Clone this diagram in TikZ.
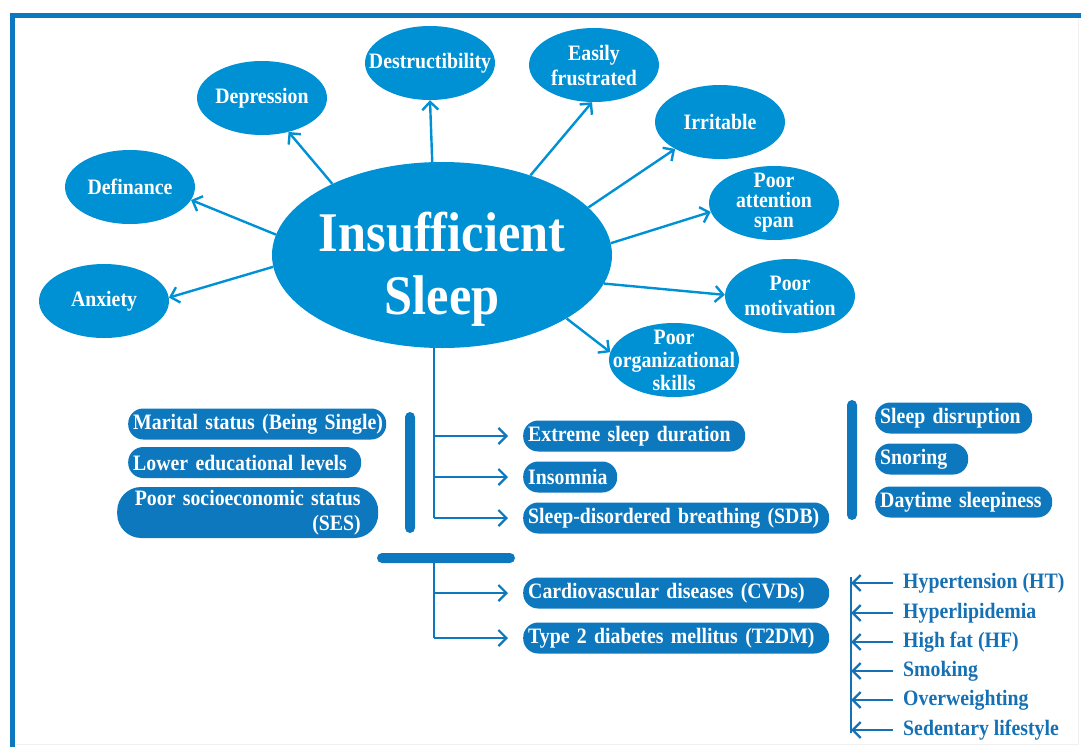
\documentclass[tikz,border=0pt]{standalone}
\usepackage{fontspec}
\setmainfont{Liberation Serif}[FakeStretch=0.9]
\usetikzlibrary{arrows.meta,positioning,shapes.geometric}
\definecolor{ovalblue}{RGB}{0,145,213}
\definecolor{boxblue}{RGB}{14,120,190}
\definecolor{listblue}{RGB}{22,112,180}

\begin{document}
\begin{tikzpicture}[x=1pt,y=-1pt,every node/.style={font=\fontsize{22}{25}\selectfont\bfseries},
    oval/.style={ellipse,fill=ovalblue,text=white,minimum width=130pt,minimum height=74pt,
                 inner xsep=-22pt,inner ysep=-14pt,align=center},
    factor/.style={fill=boxblue,text=white,rounded corners=15pt,minimum height=31pt,
                   inner xsep=5pt,inner ysep=0pt,anchor=west,align=left},
    risk/.style={text=listblue,anchor=west,inner xsep=0pt},
    bar/.style={fill=boxblue,rounded corners=5pt,inner sep=0pt},
    up/.style={draw=ovalblue,line width=2.4pt,-{Straight Barb[length=8pt,width=16pt]}},
    down/.style={draw=boxblue,line width=2.2pt,-{Straight Barb[length=8pt,width=16pt]},shorten >=15pt},
    back/.style={draw=listblue,line width=2.4pt,-{Straight Barb[length=8pt,width=16pt]},shorten <=10pt}]
  \useasboundingbox (0,0) rectangle (1081,747);
  % frame
  \draw[gray!12,line width=1pt] (1078,15) -- (1078,744) -- (12,744);
  \draw[boxblue,line width=5pt] (1081,15) -- (12,15) -- (12,747);

  % centre and its effects
  \node[ellipse,fill=ovalblue,minimum width=340pt,minimum height=186pt,inner sep=0pt] (main) at (442,255) {};
  \node[text=white,align=center,font=\fontsize{56}{63}\selectfont\bfseries] (title) at (442,269) {Insufficient\\Sleep};
  \node[oval] (dep) at (262,98)  {Depression};
  \node[oval] (des) at (430,63)  {Destructibility};
  \node[oval] (fru) at (594,65)  {Easily\\frustrated};
  \node[oval] (irr) at (720,122) {Irritable};
  \node[oval,font=\fontsize{22}{20}\selectfont\bfseries] (att) at (774,203) {Poor\\attention\\span};
  \node[oval] (mot) at (790,296) {Poor\\motivation};
  \node[oval,font=\fontsize{22}{23}\selectfont\bfseries] (org) at (674,360) {Poor\\organizational\\skills};
  \node[oval] (dfn) at (130,187) {Definance};
  \node[oval] (anx) at (104,301) {Anxiety};
  \draw[up] (main.147) -- (dep.-52);
  \draw[up] (main.96)  -- (des.-90);
  \draw[up] (main.42)  -- (fru.-93);
  \draw[up] (main.18)  -- (irr.-149);
  \draw[up] (main.4)   -- (att.188);
  \draw[up] (main.-10) -- (mot.179);
  \draw[up] (main.-27) -- (org.173);
  \draw[up] (main.173) -- (dfn.-12);
  \draw[up] (main.184) -- (anx.3);

  % sleep problems
  \node[factor,text width=212pt] (ext) at (523,436) {\mbox{Extreme sleep duration}};
  \node[factor,text width=84pt]  (ins) at (523,477) {\mbox{Insomnia}};
  \node[factor,text width=296pt] (sdb) at (523,518) {\mbox{Sleep-disordered breathing (SDB)}};
  \coordinate (t1) at (434,518);
  \draw[boxblue,line width=2.2pt] (main.south -| t1) -- (t1);
  \draw[down] (ext -| t1) -- (ext);
  \draw[down] (ins -| t1) -- (ins);
  \draw[down] (sdb -| t1) -- (sdb);

  \node[factor,text width=248pt] (mar) at (128,424) {\mbox{Marital status (Being Single)}};
  \node[factor,text width=223pt] (edu) at (128,462.5) {\mbox{Lower educational levels}};
  \node[factor,text width=226pt,inner xsep=17.5pt,align=right,minimum height=51pt,rounded corners=24pt]
       (ses) at (117,512.5) {\mbox{Poor socioeconomic status}\\(SES)};
  \node[bar,minimum width=10pt,minimum height=121pt] (lbar) at (410,472.5) {};

  \node[bar,minimum width=10pt,minimum height=120pt] (rbar) at (852,460) {};
  \node[factor,text width=147pt] (dis) at (875,418) {\mbox{Sleep disruption}};
  \node[factor,text width=83pt]  (sno) at (875,459) {\mbox{Snoring}};
  \node[factor,text width=167pt] (day) at (875,502) {\mbox{Daytime sleepiness}};

  % diseases
  \node[bar,minimum width=138pt,minimum height=10pt] (hbar) at (446,558) {};
  \node[factor,text width=296pt] (cvd) at (523,593) {\mbox{Cardiovascular diseases (CVDs)}};
  \node[factor,text width=296pt] (dm)  at (523,638) {\mbox{Type 2 diabetes mellitus (T2DM)}};
  \coordinate (t2) at (434,638);
  \draw[boxblue,line width=2.2pt] (hbar.south -| t2) -- (t2);
  \draw[down] (cvd -| t2) -- (cvd);
  \draw[down] (dm -| t2) -- (dm);

  % risk factors
  \coordinate (rtop) at (851,577);
  \coordinate (rbot) at (851,733);
  \draw[listblue,line width=2.4pt] (rtop) -- (rbot);
  \node[risk] (ht)  at (903,583) {Hypertension (HT)};
  \node[risk] (hl)  at (903,613) {Hyperlipidemia};
  \node[risk] (hf)  at (903,642) {High fat (HF)};
  \node[risk] (smk) at (903,671) {Smoking};
  \node[risk] (ow)  at (903,700) {Overweighting};
  \node[risk] (sed) at (903,730) {Sedentary lifestyle};
  \draw[back] (ht)  -- (ht -| rtop);
  \draw[back] (hl)  -- (hl -| rtop);
  \draw[back] (hf)  -- (hf -| rtop);
  \draw[back] (smk) -- (smk -| rtop);
  \draw[back] (ow)  -- (ow -| rtop);
  \draw[back] (sed) -- (sed -| rtop);
\end{tikzpicture}
\end{document}
